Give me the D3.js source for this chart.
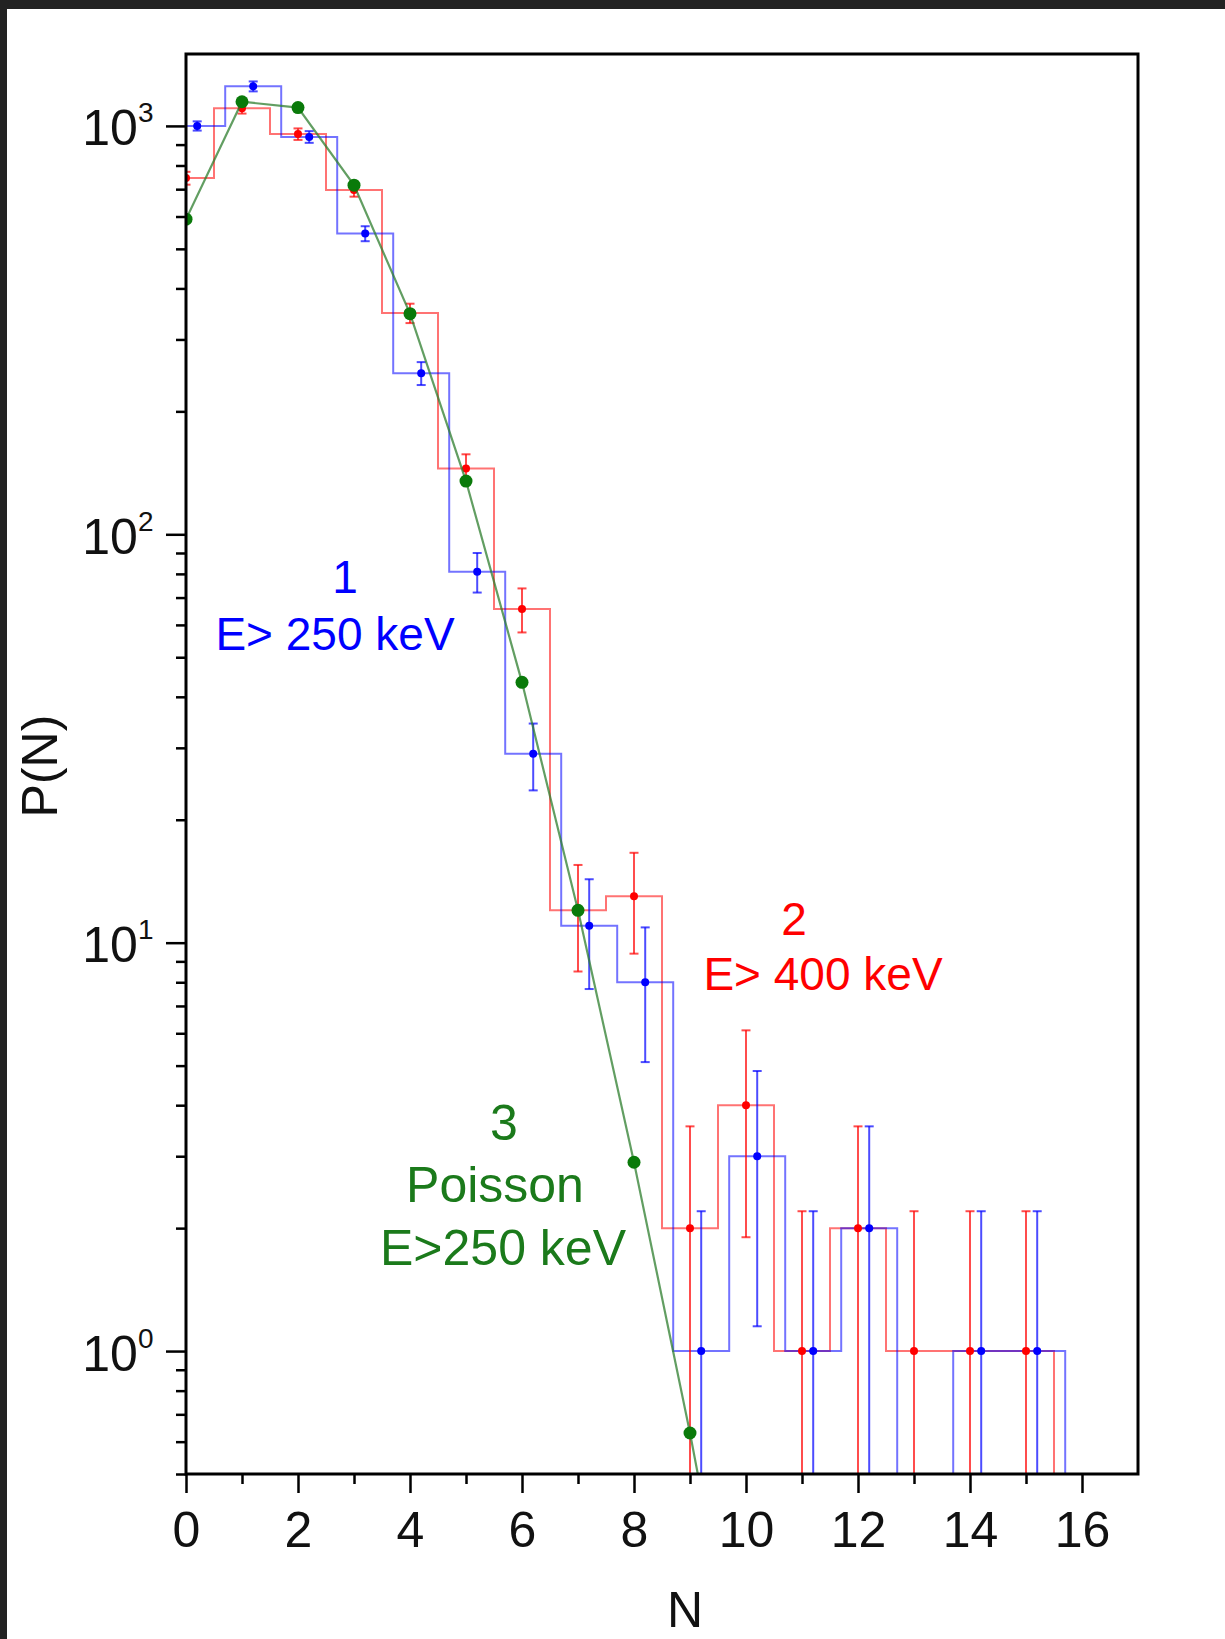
<!DOCTYPE html>
<html lang="en">
<head>
  <meta charset="UTF-8">
  <title>P(N) distribution</title>
  <script src="https://d3js.org/d3.v7.min.js"></script>
  <style>
    body {margin: 0; padding: 0; background: #222;}
    svg {display: block;}
    text {font-family: "Liberation Sans", Arial, sans-serif;}
  </style>
</head>
<body>
  <div id="chart"></div>
  <script>
    // multiplicity N (bin index)
    const counts = [0, 1, 2, 3, 4, 5, 6, 7, 8, 9, 10, 11, 12, 13, 14, 15];
    // 1: E > 250 keV (blue)
    const blueP   = [1000, 1250, 940, 545, 248, 81, 29, 11, 8, 1, 3, 1, 2, 0, 1, 1];
    const blueErr = [26, 35, 31, 23, 16, 9, 5.4, 3.3, 2.9, 1.2, 1.85, 1.2, 1.55, 0, 1.2, 1.2];
    // 2: E > 400 keV (red)
    const redP    = [745, 1105, 955, 697, 348, 145, 65.6, 12, 13, 2, 4, 1, 2, 1, 1, 1];
    const redErr  = [27, 33, 31, 26, 19, 12, 8.1, 3.5, 3.6, 1.55, 2.1, 1.2, 1.55, 1.2, 1.2, 1.2];
    // 3: Poisson, E > 250 keV (green)
    const poissonN = [0, 1, 2, 3, 4, 5, 6, 7, 8, 9, 10];
    const poissonP = [591, 1146, 1109, 716, 347, 135, 43.4, 12.0, 2.9, 0.63, 0.12];

    const xMajor = [0, 2, 4, 6, 8, 10, 12, 14, 16];
    const xMinor = [1, 3, 5, 7, 9, 11, 13, 15];
    const yMajor = [1, 10, 100, 1000];
    const yMinor = [0.5, 0.6, 0.7, 0.8, 0.9, 2, 3, 4, 5, 6, 7, 8, 9,
                    20, 30, 40, 50, 60, 70, 80, 90, 200, 300, 400, 500, 600, 700, 800, 900];

    const margin = {top: 54, left: 186};
    const W = 952, H = 1420;

    const svg = d3.select("#chart").append("svg")
      .attr("width", 1225).attr("height", 1639);

    svg.append("rect").attr("x", 7).attr("y", 9)
      .attr("width", 1225).attr("height", 1639).attr("fill", "#fff");

    const g = svg.append("g").attr("transform", `translate(${margin.left},${margin.top})`);

    const x = d3.scaleLinear().domain([0, 17]).range([0, W]);
    const y = d3.scaleLog().domain([0.5, 1500]).range([H, 0]);

    g.append("clipPath").attr("id", "clip")
      .append("rect").attr("width", W).attr("height", H);

    const plot = g.append("g").attr("clip-path", "url(#clip)");

    const yv = v => v > 0 ? y(v) : H + 20;

    function stepPoints(vals, off) {
      const pts = vals.map((v, i) => [counts[i] + off - 0.5, v]);
      const last = counts[counts.length - 1] + off + 0.5;
      pts.push([last, vals[vals.length - 1]]);
      pts.push([last, 0]);
      return pts;
    }

    const stepLine = d3.line()
      .x(d => x(d[0])).y(d => yv(d[1]))
      .curve(d3.curveStepAfter);

    const series = [
      {vals: redP, err: redErr, off: 0, color: "#ff0000"},
      {vals: blueP, err: blueErr, off: 0.2, color: "#0000ff"}
    ];

    series.forEach(s => {
      plot.append("path")
        .attr("d", stepLine(stepPoints(s.vals, s.off)))
        .attr("fill", "none")
        .attr("stroke", s.color)
        .attr("stroke-opacity", 0.55)
        .attr("stroke-width", 2);
    });

    series.forEach(s => {
      const pts = s.vals.map((v, i) => ({n: counts[i] + s.off, v, e: s.err[i]}))
        .filter(d => d.v > 0);
      const eb = plot.append("g")
        .attr("stroke", s.color).attr("stroke-opacity", 0.7).attr("stroke-width", 2);
      pts.forEach(d => {
        const hi = y(d.v + d.e);
        const lo = d.v - d.e > 0 ? y(d.v - d.e) : H + 20;
        const cx = x(d.n);
        eb.append("line").attr("x1", cx).attr("x2", cx).attr("y1", hi).attr("y2", lo);
        eb.append("line").attr("x1", cx - 4.5).attr("x2", cx + 4.5).attr("y1", hi).attr("y2", hi);
        eb.append("line").attr("x1", cx - 4.5).attr("x2", cx + 4.5).attr("y1", lo).attr("y2", lo);
      });
      plot.append("g").selectAll("circle").data(pts).join("circle")
        .attr("cx", d => x(d.n)).attr("cy", d => y(d.v))
        .attr("r", 4).attr("fill", s.color);
    });

    // Poisson curve
    const poisson = poissonN.map((n, i) => ({n, v: poissonP[i]}));
    plot.append("path")
      .datum(poisson)
      .attr("d", d3.line().x(d => x(d.n)).y(d => y(d.v)))
      .attr("fill", "none")
      .attr("stroke", "#2e7d2e")
      .attr("stroke-opacity", 0.75)
      .attr("stroke-width", 2.2);
    plot.append("g").selectAll("circle").data(poisson).join("circle")
      .attr("cx", d => x(d.n)).attr("cy", d => y(d.v))
      .attr("r", 6.5).attr("fill", "#0a7a0a");

    // axes
    const fontSize = 50;
    const xAxis = g.append("g").attr("transform", `translate(0,${H})`)
      .call(d3.axisBottom(x).tickValues(xMajor).tickSize(19).tickPadding(18.5).tickFormat(d3.format("d")));
    g.append("g").attr("transform", `translate(0,${H})`)
      .call(d3.axisBottom(x).tickValues(xMinor).tickSize(10).tickFormat(""));
    const yAxis = g.append("g")
      .call(d3.axisLeft(y).tickValues(yMajor).tickSize(20).tickFormat(""));
    g.append("g")
      .call(d3.axisLeft(y).tickValues(yMinor).tickSize(10).tickFormat(""));

    g.selectAll(".domain").remove();
    g.selectAll(".tick line").attr("stroke", "#000").attr("stroke-width", 2.5);
    xAxis.selectAll(".tick text")
      .attr("font-size", fontSize).attr("fill", "#111")
      .style("font-family", "'Liberation Sans', Arial, sans-serif");

    yAxis.selectAll(".tick").each(function(d) {
      const t = d3.select(this).append("text")
        .attr("x", -32.5).attr("y", 19)
        .attr("text-anchor", "end").attr("fill", "#111")
        .attr("font-size", fontSize);
      t.append("tspan").text("10");
      t.append("tspan").attr("dy", -23).attr("font-size", 28).text(Math.round(Math.log10(d)));
    });

    // frame
    g.append("rect").attr("width", W).attr("height", H)
      .attr("fill", "none").attr("stroke", "#000").attr("stroke-width", 3);

    // axis titles
    svg.append("text").attr("x", 685).attr("y", 1627)
      .attr("text-anchor", "middle").attr("font-size", fontSize).attr("fill", "#111").text("N");
    svg.append("text").attr("transform", "translate(57,766) rotate(-90)")
      .attr("text-anchor", "middle").attr("font-size", fontSize).attr("fill", "#111").text("P(N)");

    // annotations
    const notes = [
      {t: "1", x: 345, y: 593, size: 46, c: "#0000ff"},
      {t: "E> 250 keV", x: 335, y: 650, size: 46, c: "#0000ff"},
      {t: "2", x: 794, y: 935, size: 46, c: "#ff0000"},
      {t: "E> 400 keV", x: 823, y: 990, size: 46, c: "#ff0000"},
      {t: "3", x: 504, y: 1140, size: 50, c: "#1b7a1b"},
      {t: "Poisson", x: 495, y: 1202, size: 50, c: "#1b7a1b"},
      {t: "E>250 keV", x: 503, y: 1265, size: 50, c: "#1b7a1b"}
    ];
    svg.selectAll("text.note").data(notes).join("text")
      .attr("class", "note")
      .attr("x", d => d.x).attr("y", d => d.y)
      .attr("text-anchor", "middle")
      .attr("font-size", d => d.size)
      .attr("fill", d => d.c)
      .text(d => d.t);
  </script>
</body>
</html>
